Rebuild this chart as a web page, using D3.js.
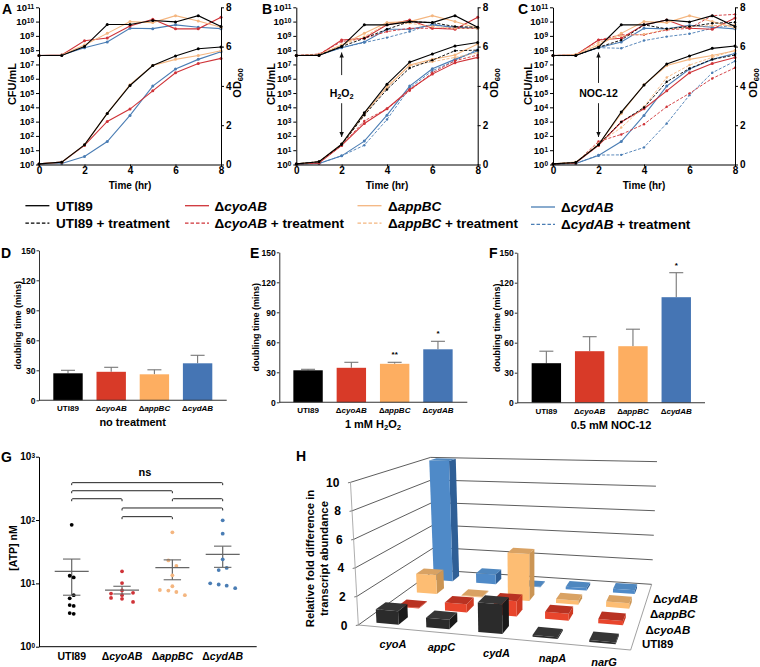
<!DOCTYPE html>
<html><head><meta charset="utf-8">
<script src="https://cdn.jsdelivr.net/npm/d3@7"></script>
<style>
html,body{margin:0;padding:0;background:#fff}
svg{display:block}
text{font-family:"Liberation Sans",Arial,sans-serif;fill:#000}
</style></head><body><div id="chart"></div>
<script>
// ---------- data ----------
const hours=[0,1,2,3,4,5,6,7,8];
const strains=["UTI89","cyoAB","appBC","cydAB"];
// Panel A
const aCfuUTI=[4.2e7,4.2e7,1.8e8,6.2e9,6.2e9,1.2e10,9.5e9,2.6e10,4.5e9];
const aCfuCyo=[4.2e7,4.6e7,4.6e8,7.2e8,5e9,1.45e10,3.1e9,3.1e9,2e10];
const aCfuApp=[4.2e7,4.6e7,2.3e8,1.5e9,1e10,8.5e9,2.6e10,1.1e10,4e9];
const aCfuCyd=[4.2e7,4.6e7,1.5e8,3.7e8,3.4e9,3.2e9,5.9e9,4e9,3.2e9];
const aOdUTI=[.03,.12,1.0,2.6,4.02,5.04,5.52,5.89,5.98];
const aOdCyo=[.03,.12,.97,2.19,2.82,3.75,4.67,5.14,5.4];
const aOdApp=[.03,.12,1.0,2.6,4.06,5.04,5.35,5.55,5.79];
const aOdCyd=[.03,.05,.41,1.17,2.5,3.99,4.86,5.35,5.74];
// Panel B solid
const bCfuUTI=[4.2e7,4.2e7,1.8e8,5.9e9,5.9e9,1e10,8.5e9,2.6e10,4e9];
const bCfuCyo=[4.2e7,4.6e7,5.1e8,6.8e8,5.9e9,1.3e10,3.4e9,2.9e9,2e10];
const bCfuApp=[4.2e7,4.6e7,2.3e8,1.5e9,8.5e9,1e10,2.6e10,1e10,3.4e9];
const bCfuCyd=[4.2e7,4.6e7,1.5e8,3.7e8,2.9e9,2.9e9,5.9e9,4e9,3.4e9];
const bOdUTI=[.03,.14,1.04,2.63,4.09,5.21,5.62,6.03,6.21];
const bOdCyo=[.03,.08,.97,2.09,2.84,3.82,4.6,5.18,5.45];
const bOdApp=[.03,.14,1.04,2.6,3.92,5.06,5.35,5.57,6.13];
const bOdCyd=[.03,.05,.44,1.19,2.51,3.99,4.87,5.35,5.79];
// Panel B + treatment
const bCfuUTIt=[4.2e7,4.6e7,1.8e8,6.8e8,2.9e9,1e10,8.5e9,4.5e9,4e9];
const bCfuCyot=[4.2e7,5.4e7,4e8,6.8e8,2e9,3.4e9,3.4e9,3.4e9,3.4e9];
const bCfuAppt=[4.2e7,5.1e7,2.3e8,8.9e8,6.9e9,7.6e9,4.5e9,3.4e9,3.4e9];
const bCfuCydt=[4.2e7,4.6e7,1.5e8,3.4e8,7.6e8,2e9,6.9e9,3.4e9,3.4e9];
const bOdUTIt=[.03,.14,1.0,2.51,3.82,4.91,5.31,5.79,5.82];
const bOdCyot=[.03,.08,.97,2.22,2.84,3.75,4.67,5.28,5.57];
const bOdAppt=[.03,.14,1.0,2.51,3.99,5.03,5.23,5.45,5.69];
const bOdCydt=[.03,.05,.44,.98,2.29,3.89,4.77,5.28,5.86];
// Panel C solid
const cCfuUTI=[4.2e7,4.2e7,1.6e8,5.9e9,5.9e9,1.3e10,9.5e9,2.6e10,4.5e9];
const cCfuCyo=[4.2e7,4.6e7,5.1e8,6.8e8,5.9e9,1.3e10,3.4e9,2.9e9,1.8e10];
const cCfuApp=[4.2e7,4.6e7,2.3e8,1.5e9,1e10,8.5e9,2.6e10,1e10,3.7e9];
const cCfuCyd=[4.2e7,4.6e7,1.5e8,3.7e8,3.4e9,3.1e9,5.4e9,4e9,3.1e9];
const cOdUTI=[.03,.10,1.0,2.67,4.04,5.11,5.52,5.91,6.03];
const cOdCyo=[.03,.08,.97,2.16,2.84,3.75,4.67,5.14,5.45];
const cOdApp=[.03,.12,1.0,2.6,4.06,5.04,5.35,5.55,5.79];
const cOdCyd=[.03,.05,.46,1.17,2.5,3.99,4.86,5.35,5.65];
// Panel C + treatment
const cCfuUTIt=[4.2e7,4.2e7,1.6e8,5.1e8,5.9e9,3.1e9,4.5e9,7.6e9,8.9e9];
const cCfuCyot=[4.2e7,4.6e7,5.1e8,1.2e9,1.2e9,2.6e9,3.4e9,2.6e10,3.2e10];
const cCfuAppt=[4.2e7,5.1e7,3.4e8,1e9,1.3e9,2.9e9,4.5e9,5.2e9,5.9e9];
const cCfuCydt=[4.2e7,4.6e7,1.5e8,1.35e8,4.7e8,8.9e8,1.4e9,3.4e9,5.9e9];
const cOdUTIt=[.03,.10,1.0,2.17,2.9,4.21,4.89,5.35,5.57];
const cOdCyot=[.03,.08,1.17,1.53,2.05,2.94,3.62,4.38,4.92];
const cOdAppt=[.03,.10,1.07,1.88,2.94,4.43,5.06,5.45,5.82];
const cOdCydt=[.03,.05,.48,.49,.87,2.09,3.53,4.67,5.26];
// Doubling times
const dMeans=[27,28.5,26,37], dUpper=[30,33,30.5,45];
const eMeans=[32,34.5,38.5,53], eUpper=[33,40,40,61];
const fMeans=[39.5,51.5,56.5,105.5], fUpper=[51.5,66,73.5,130];
const eSig=["","","**","*"], fSig=["","","","*"];
// ATP
const atpUTI=[84,13.2,12.4,6.5,5.8,4.55,4.4,3.4,3.3];
const atpCyo=[15.5,10.1,7.75,6.9,7.1,6.5,5.9,5.7,5.1];
const atpApp=[64,23,18.8,13.4,9,7.85,7.7,7.3,6.5];
const atpCyd=[99,61,24,17.5,16.2,10,9.6,9.2,8.4];
const atpMean=[15.5,7.8,17.7,28.7], atpLow=[6.5,6.8,11.4,17.9], atpHigh=[24.2,9,23.5,38.7];
const bracketFrom=[0,0,0,2,1,1], bracketTo=[3,2,1,3,3,2], bracketLevel=[389,290,217,217,155,113];
// Transcript abundance (rows: strain, columns: gene)
const genes=["cyoA","appC","cydA","napA","narG"];
const hUTI=[.95,.65,2.0,.12,.12];
const hCyo=[.05,.6,1.1,.5,.3];
const hApp=[1.5,.05,3.6,.3,.4];
const hCyd=[10.1,.8,.05,.2,.3];
const hTicks=[0,2,4,6,8,10];

// ---------- layout ----------
const svg=d3.select("#chart").append("svg").attr("width",760).attr("height",667).attr("viewBox","0 0 760 667");
const COL={UTI:"#000000",Cyo:"#cf3338",App:"#f4b680",Cyd:"#4a7db4"};
const BAR={UTI89:"#000000",cyoAB:"#d83a28",appBC:"#fdae61",cydAB:"#4575b4"};
const B="bold";
function text(x,y,s,o={}){
  const t=svg.append("text").attr("x",x).attr("y",y).attr("font-size",o.size||10).attr("font-weight",o.weight||B)
    .attr("text-anchor",o.anchor||"start");
  if(o.rotate)t.attr("transform",`rotate(${o.rotate} ${x} ${y})`);
  (Array.isArray(s)?s:[s]).forEach(seg=>{
    if(typeof seg==="string"){t.append("tspan").text(seg);return;}
    const sp=t.append("tspan").text(seg.t);
    if(seg.i)sp.attr("font-style","italic");
    if(seg.sub){sp.attr("baseline-shift","-25%").attr("font-size",(o.size||10)*.7);}
    if(seg.sup){sp.attr("baseline-shift","35%").attr("font-size",(o.size||10)*.7);}
    if(seg.w)sp.attr("font-weight",seg.w);
  });
  return t;
}
function strainSeg(s){return s==="UTI89"?["UTI89"]:["Δ",{t:s,i:true}];}

// ---------- growth panels ----------
function powerLabels(sel,expOf){
  sel.selectAll(".tick text").each(function(d){
    const t=d3.select(this).text("");
    t.append("tspan").text("10");
    t.append("tspan").text(expOf(d)).attr("font-size",6.5).attr("baseline-shift","35%");
  });
}
function growth(p){
  const x=d3.scaleLinear().domain([0,8]).range([p.x0,p.x1]);
  const yC=d3.scaleLog().domain([1,1e11]).range([164.5,7.3]);
  const yO=d3.scaleLinear().domain([0,8]).range([164.5,7.3]);
  const g=svg.append("g");
  const line=(y)=>d3.line().x((d,i)=>x(hours[i])).y(d=>y(d));
  p.series.forEach(s=>{
    [[s.cfu,yC],[s.od,yO]].forEach(([vals,y])=>{
      g.append("path").attr("d",line(y)(vals)).attr("fill","none").attr("stroke",COL[s.c])
        .attr("stroke-width",s.dash?0.9:1.1).attr("stroke-dasharray",s.dash?"3 1.6":null);
      g.selectAll(null).data(vals).join("circle").attr("cx",(d,i)=>x(hours[i])).attr("cy",d=>y(d))
        .attr("r",s.dash?1.2:1.5).attr("fill",COL[s.c]);
    });
  });
  const ax=(a,tr)=>{const q=svg.append("g").attr("transform",tr).call(a);
    q.selectAll("path,line").attr("stroke","#000").attr("stroke-width",1);
    q.selectAll("text").attr("font-size",9.5).attr("font-weight",B).attr("font-family","Liberation Sans").attr("fill","#000");return q;};
  const decades=d3.range(0,12).map(e=>Math.pow(10,e));
  const l=ax(d3.axisLeft(yC).tickValues(decades).tickSize(3).tickPadding(2).tickSizeOuter(0),`translate(${p.x0},0)`);
  powerLabels(l,d=>String(Math.round(Math.log10(d))));
  ax(d3.axisRight(yO).tickValues([0,2,4,6,8]).tickSize(3).tickPadding(2).tickSizeOuter(0),`translate(${p.x1},0)`)
    .selectAll("text").attr("font-size",10);
  const bt=ax(d3.axisBottom(x).tickValues([0,2,4,6,8]).tickSize(2).tickPadding(0).tickSizeOuter(0),`translate(0,164.5)`);
  bt.selectAll("text").attr("font-size",10);
  text((p.x0+p.x1)/2,189,"Time (hr)",{size:10,anchor:"middle"});
  text(p.x0-p.ylab,84,"CFU/mL",{size:11,anchor:"middle",rotate:-90});
  text(p.x1+p.rlab,83,["OD",{t:"600",sub:true}],{size:11,anchor:"middle",rotate:-90});
  text(p.lx,13.5,p.letter,{size:14});
  if(p.arrow){
    const ax0=x(2);
    const arrow=(o1,o2,headUp)=>{
      g.append("line").attr("x1",ax0).attr("x2",ax0).attr("y1",yO(o1)).attr("y2",yO(o2)).attr("stroke","#222").attr("stroke-width",1);
      const tip=headUp?yO(o1):yO(o2),dir=headUp?1:-1;
      g.append("path").attr("d",`M${ax0},${tip}l-2.2,${dir*5}h4.4z`).attr("fill","#111");
    };
    arrow(5.7,p.arrow[0],true);
    arrow(p.arrow[1],1.4,false);
    text(ax0,97,p.arrowLabel,{size:10.5,anchor:"middle"});
  }
}
const sA=[{c:"Cyd",cfu:aCfuCyd,od:aOdCyd},{c:"Cyo",cfu:aCfuCyo,od:aOdCyo},{c:"App",cfu:aCfuApp,od:aOdApp},{c:"UTI",cfu:aCfuUTI,od:aOdUTI}];
const sB=[{c:"Cyd",cfu:bCfuCydt,od:bOdCydt,dash:1},{c:"Cyd",cfu:bCfuCyd,od:bOdCyd},{c:"Cyo",cfu:bCfuCyot,od:bOdCyot,dash:1},{c:"Cyo",cfu:bCfuCyo,od:bOdCyo},
 {c:"App",cfu:bCfuApp,od:bOdApp},{c:"App",cfu:bCfuAppt,od:bOdAppt,dash:1},{c:"UTI",cfu:bCfuUTIt,od:bOdUTIt,dash:1},{c:"UTI",cfu:bCfuUTI,od:bOdUTI}];
const sC=[{c:"Cyd",cfu:cCfuCydt,od:cOdCydt,dash:1},{c:"Cyd",cfu:cCfuCyd,od:cOdCyd},{c:"Cyo",cfu:cCfuCyot,od:cOdCyot,dash:1},{c:"Cyo",cfu:cCfuCyo,od:cOdCyo},
 {c:"App",cfu:cCfuApp,od:cOdApp},{c:"App",cfu:cCfuAppt,od:cOdAppt,dash:1},{c:"UTI",cfu:cCfuUTIt,od:cOdUTIt,dash:1},{c:"UTI",cfu:cCfuUTI,od:cOdUTI}];
growth({letter:"A",lx:2,x0:39,x1:221,ylab:23,rlab:20,series:sA});
growth({letter:"B",lx:262,x0:296.3,x1:477.7,ylab:21,rlab:20,series:sB,arrow:[4.55,3.12],arrowLabel:["H",{t:"2",sub:true},"O",{t:"2",sub:true}]});
growth({letter:"C",lx:518,x0:553,x1:735,ylab:21,rlab:22,series:sC,arrow:[4.15,3.12],arrowLabel:"NOC-12"});

// ---------- legend ----------
const legendCols=[{l:25.4,t:56,y:205.7,c:"UTI",s:"UTI89"},{l:185,t:214.6,y:205.7,c:"Cyo",s:"cyoAB"},{l:357.5,t:388,y:205.7,c:"App",s:"appBC"},{l:531,t:561,y:207,c:"Cyd",s:"cydAB"}];
legendCols.forEach(c=>{
  [0,1].forEach(r=>{
    const y=c.y+r*17.4;
    svg.append("line").attr("x1",c.l).attr("x2",c.l+24).attr("y1",y).attr("y2",y).attr("stroke",COL[c.c]).attr("stroke-width",1.3).attr("stroke-dasharray",r?"3.5 2":null);
    text(c.t,y+4.8,[...strainSeg(c.s),...(r?[{t:" + treatment"}]:[])],{size:13.5});
  });
});

// ---------- bar panels ----------
function bars(p){
  const x=d3.scaleBand().domain(strains).range([p.x0,p.x0+4*p.step]).paddingInner(1-29.4/p.step).paddingOuter((1-29.4/p.step)/2);
  const y=d3.scaleLinear().domain([0,150]).range([p.y0,p.y0-150]);
  strains.forEach((s,i)=>{
    const cx=x(s)+x.bandwidth()/2;
    svg.append("line").attr("x1",cx).attr("x2",cx).attr("y1",y(p.means[i])).attr("y2",y(p.upper[i])).attr("stroke","#777").attr("stroke-width",1.1);
    svg.append("line").attr("x1",cx-7).attr("x2",cx+7).attr("y1",y(p.upper[i])).attr("y2",y(p.upper[i])).attr("stroke","#777").attr("stroke-width",1.1);
    svg.append("rect").attr("x",x(s)).attr("y",y(p.means[i])).attr("width",x.bandwidth()).attr("height",y(0)-y(p.means[i])).attr("fill",BAR[s]);
    text(cx,p.y0+11,s==="UTI89"?"UTI89":["Δ",{t:s,i:true}],{size:8,anchor:"middle"});
    if(p.sig&&p.sig[i])text(cx,y(p.upper[i])-5,p.sig[i],{size:8,anchor:"middle"});
  });
  const a=svg.append("g").attr("transform",`translate(${p.ax},0)`).call(d3.axisLeft(y).tickValues([0,30,60,90,120,150]).tickSize(2.5).tickPadding(1).tickSizeOuter(0));
  a.selectAll("path,line").attr("stroke","#333").attr("stroke-width",1);
  a.selectAll("text").attr("font-size",8.5).attr("font-weight",B).attr("font-family","Liberation Sans").attr("fill","#000");
  svg.append("line").attr("x1",p.ax).attr("x2",p.xe).attr("y1",p.y0).attr("y2",p.y0).attr("stroke","#333").attr("stroke-width",1.1);
  text(p.ylx,p.y0-75,"doubling time (mins)",{size:9,anchor:"middle",rotate:-90});
  text(p.lcx,p.y0+26,p.label,{size:11,anchor:"middle"});
  text(p.lx,p.ly,p.letter,{size:14});
}
bars({letter:"D",lx:1,ly:257.5,x0:46.4,step:43.2,ax:39,xe:226.7,y0:400.3,means:dMeans,upper:dUpper,ylx:21.5,lcx:132.7,label:"no treatment"});
bars({letter:"E",lx:250,ly:257.5,x0:286.4,step:43.3,ax:279.3,xe:467.3,y0:402.3,means:eMeans,upper:eUpper,sig:eSig,ylx:259,lcx:373,label:["1 mM H",{t:"2",sub:true},"O",{t:"2",sub:true}]});
bars({letter:"F",lx:489,ly:257.5,x0:524.7,step:43.3,ax:517.3,xe:705,y0:402.7,means:fMeans,upper:fUpper,sig:fSig,ylx:500,lcx:611,label:"0.5 mM NOC-12"});

// ---------- ATP panel ----------
(function(){
  const x=d3.scalePoint().domain(strains).range([71.7,222.7]);
  const y=d3.scaleLog().domain([1,1000]).range([646.7,456.7]);
  const swarm=[[0,-2,2,2,-2,-2,2,-2,2],[0,0,0,-11,11,0,-11,0,11],[0,-4,4,0,0,-12.5,-4,4,12.5],[0,0,0,4,-4,-12.5,-4,4,12.5]];
  const atp=[atpUTI,atpCyo,atpApp,atpCyd], cols=[COL.UTI,COL.Cyo,COL.App,COL.Cyd];
  strains.forEach((s,i)=>{
    const cx=x(s);
    svg.append("line").attr("x1",cx).attr("x2",cx).attr("y1",y(atpLow[i])).attr("y2",y(atpHigh[i])).attr("stroke","#666").attr("stroke-width",1.2);
    svg.selectAll(null).data(atp[i]).join("circle").attr("cx",(d,j)=>cx+swarm[i][j]).attr("cy",d=>y(d)).attr("r",1.9).attr("fill",cols[i]);
    svg.append("line").attr("x1",cx-17).attr("x2",cx+17).attr("y1",y(atpMean[i])).attr("y2",y(atpMean[i])).attr("stroke","#666").attr("stroke-width",1.2);
    [atpLow[i],atpHigh[i]].forEach(v=>svg.append("line").attr("x1",cx-8.7).attr("x2",cx+8.7).attr("y1",y(v)).attr("y2",y(v)).attr("stroke","#666").attr("stroke-width",1.1));
    text(cx,660,strainSeg(s),{size:10.5,anchor:"middle"});
  });
  bracketFrom.forEach((f,i)=>{
    const a=x(strains[f]),b=x(strains[bracketTo[i]]),yy=y(bracketLevel[i]);
    svg.append("path").attr("d",`M${a},${yy+2.5}v-1.5q0,-1 1,-1H${b-1}q1,0 1,1v1.5`).attr("fill","none").attr("stroke","#222").attr("stroke-width",1);
  });
  text(145,476,"ns",{size:11,anchor:"middle"});
  const a=svg.append("g").attr("transform","translate(39,0)").call(d3.axisLeft(y).tickValues([1,10,100,1000]).tickSize(3).tickPadding(1).tickSizeOuter(0));
  a.selectAll("path,line").attr("stroke","#000").attr("stroke-width",1);
  a.selectAll("text").attr("font-size",10).attr("font-weight",B).attr("font-family","Liberation Sans").attr("fill","#000");
  powerLabels(a,d=>String(Math.round(Math.log10(d))));
  svg.append("line").attr("x1",39).attr("x2",256.7).attr("y1",646.7).attr("y2",646.7).attr("stroke","#000").attr("stroke-width",1);
  text(17,548,"[ATP] nM",{size:10.5,anchor:"middle",rotate:-90});
  text(1,462,"G",{size:14});
})();

// ---------- 3D panel ----------
(function(){
  const FL=[235,585],FR=[1052,660],BR=[1115,463],BLk=[465,420];
  const sx=FL[0]-FR[0]+BR[0]-BLk[0], sy=FL[1]-FR[1]+BR[1]-BLk[1];
  const dx1=FR[0]-BR[0],dx2=BLk[0]-BR[0],dy1=FR[1]-BR[1],dy2=BLk[1]-BR[1];
  const det=dx1*dy2-dx2*dy1;
  const gg=(sx*dy2-dx2*sy)/det, hh=(dx1*sy-sx*dy1)/det;
  const a=FR[0]-FL[0]+gg*FR[0], bb=BLk[0]-FL[0]+hh*BLk[0], dd=FR[1]-FL[1]+gg*FR[1], ee=BLk[1]-FL[1]+hh*BLk[1];
  const H=d3.scaleLinear().domain([0,1]).range([0,42.8]);
  function proj(u,v,h){
    const w=gg*u+hh*v+1;
    const X=(a*u+bb*v+FL[0])/w, Y=(dd*u+ee*v+FL[1])/w;
    return [280+(X+(X-760)*0.0045*h)/3, 430+(Y-H(h)/w)/3];
  }
  const P=(pts)=>pts.map(p=>p.join(",")).join(" ");
  const U=d3.scaleBand().domain(genes).range([0,1]).paddingInner(.55).paddingOuter(.275);
  const rows=strains.slice();
  const V=d3.scaleBand().domain(rows).range([-.02,.98]).paddingInner(.56).paddingOuter(.28);
  const tline=(p1,p2,c,w)=>svg.append("line").attr("x1",p1[0]).attr("y1",p1[1]).attr("x2",p2[0]).attr("y2",p2[1]).attr("stroke",c).attr("stroke-width",w);
  // walls and floor
  hTicks.forEach(h=>{
    const c="#333";
    tline(proj(0,0,h),proj(0,1,h),c,.8);
    tline(proj(0,1,h),proj(1,1,h),c,.8);
    const p=proj(0,0,h);
    tline([p[0]-2.5,p[1]+.5],p,"#555",.8);
    text(p[0]-11,p[1]+4.5,String(h),{size:12,anchor:"end"});
  });
  tline(proj(0,0,0),proj(0,0,10),"#999",.8);
  tline(proj(0,0,0),proj(1,0,0),"#888",.8);
  tline(proj(1,0,0),proj(1,1,0),"#888",.8);
  // bars
  const faces={UTI89:["#2b2b2b","#353535","#1a1a1a"],cyoAB:["#e8452c","#b93222","#cf3a22"],appBC:["#fdbd73","#d9a263","#cb9554"],cydAB:["#4f8ac8","#4f87bf","#2f5f96"]};
  const heights={UTI89:hUTI,cyoAB:hCyo,appBC:hApp,cydAB:hCyd};
  rows.slice().reverse().forEach(r=>{
    genes.forEach((g,i)=>{
      const u0=U(g),u1=u0+U.bandwidth(),v0=V(r),v1=v0+V.bandwidth(),h=heights[r][i],f=faces[r];
      svg.append("polygon").attr("points",P([proj(u1,v0,0),proj(u1,v1,0),proj(u1,v1,h),proj(u1,v0,h)])).attr("fill",f[2]);
      svg.append("polygon").attr("points",P([proj(u0,v0,0),proj(u1,v0,0),proj(u1,v0,h),proj(u0,v0,h)])).attr("fill",f[0]);
      svg.append("polygon").attr("points",P([proj(u0,v0,h),proj(u1,v0,h),proj(u1,v1,h),proj(u0,v1,h)])).attr("fill",f[1]);
    });
  });
  // gene labels
  const geneLabelX=[393,441.5,496.5,552.5,604], geneLabelY=[648,651,657,661.5,665.5];
  genes.forEach((g,i)=>text(geneLabelX[i],geneLabelY[i],[{t:g,i:true}],{size:11,anchor:"middle"}));
  // strain labels
  const strainLabelX=[642,645.5,650,653], strainLabelY=[648,634,618,603];
  rows.forEach((r,i)=>text(strainLabelX[i],strainLabelY[i],strainSeg(r),{size:11.5}));
  text(314,558.5,"Relative fold difference in",{size:11.3,anchor:"middle",rotate:-90});
  text(328,558.5,"transcript abundance",{size:11.3,anchor:"middle",rotate:-90});
  text(296,461,"H",{size:14});
})();
</script></body></html>
